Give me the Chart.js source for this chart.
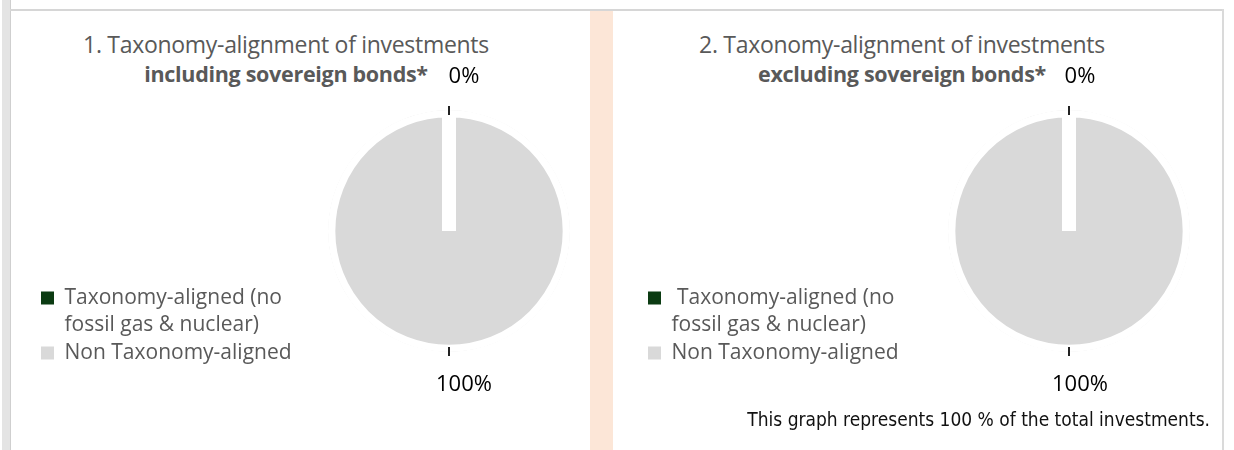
<!DOCTYPE html>
<html>
<head>
<meta charset="utf-8">
<script src="https://cdn.jsdelivr.net/npm/chart.js@4.4.1/dist/chart.umd.min.js"></script>
<style>
  html, body { margin: 0; padding: 0; background: #fff; }
  body { width: 1234px; height: 450px; position: relative; overflow: hidden; font-family: "Open Sans", sans-serif; }
  .edge-left { position: absolute; left: 2px; top: 0; width: 8px; height: 450px; background: #e4e4e4; border-right: 1px solid #cfcfcf; }
  .edge-top { position: absolute; left: 10px; top: 9px; width: 1213px; height: 2px; background: #d6d6d6; }
  .edge-right { position: absolute; left: 1222px; top: 9px; width: 2px; height: 441px; background: #dadada; }
  .divider { position: absolute; left: 590px; top: 11px; width: 23px; height: 439px; background: #fce6d7; }
  .title { position: absolute; top: 30px; width: 600px; text-align: center; color: #595959; font-size: 23px; line-height: 29px; letter-spacing: -0.3px; }
  .title b { font-weight: 700; font-size: 21.5px; }
  .note { position: absolute; right: 24px; top: 408px; font-family: "Liberation Sans Narrow", "DejaVu Sans Condensed", sans-serif; font-size: 19px; color: #111; white-space: nowrap; }
  canvas { position: absolute; top: 0; }
  #pie1 { left: 0; }
  #pie2 { left: 600px; }
</style>
</head>
<body>
<div class="edge-left"></div>
<div class="edge-top"></div>
<div class="edge-right"></div>
<div class="divider"></div>

<div class="title" style="left:-14px">1. Taxonomy-alignment of investments<br><b>including sovereign bonds*</b></div>
<div class="title" style="left:602px">2. Taxonomy-alignment of investments<br><b>excluding sovereign bonds*</b></div>

<canvas id="pie1" width="640" height="450"></canvas>
<canvas id="pie2" width="634" height="450"></canvas>

<div class="note">This graph represents 100 % of the total investments.</div>

<script>
// --- data ---
const categoriesIncl = [['Taxonomy-aligned (no', 'fossil gas & nuclear)'], ['Non Taxonomy-aligned']];
const categoriesExcl = [[' Taxonomy-aligned (no', 'fossil gas & nuclear)'], ['Non Taxonomy-aligned']];
const valuesIncl = [0, 100];
const valuesExcl = [0, 100];
const sliceColors = ['#0b3b12', '#d9d9d9'];

// small tick + percentage label outside every slice
const pieLabels = {
  id: 'pieLabels',
  afterDatasetsDraw(chart, args, opts) {
    const ctx = chart.ctx;
    const meta = chart.getDatasetMeta(0);
    const values = chart.data.datasets[0].data;
    ctx.save();
    meta.data.forEach((arc, i) => {
      const p = arc.getProps(['x', 'y', 'startAngle', 'endAngle', 'outerRadius'], true);
      const r = p.outerRadius - (arc.options.borderWidth || 0);
      const a = (p.startAngle + p.endAngle) / 2;
      const cos = Math.cos(a), sin = Math.sin(a);
      ctx.strokeStyle = '#222';
      ctx.lineWidth = 2;
      ctx.beginPath();
      ctx.moveTo(p.x + cos * (r + 2), p.y + sin * (r + 2));
      ctx.lineTo(p.x + cos * (r + 11), p.y + sin * (r + 11));
      ctx.stroke();
      ctx.fillStyle = '#000';
      ctx.font = '22px "Open Sans", sans-serif';
      ctx.textAlign = 'center';
      ctx.textBaseline = 'middle';
      ctx.fillText(values[i] + '%', p.x + cos * (r + 40) + opts.dx, p.y + sin * (r + 40));
    });
    ctx.restore();
  }
};

function legendItems(chart) {
  const gen = Chart.overrides.doughnut.plugins.legend.labels.generateLabels;
  const items = gen(chart);
  items.forEach(it => { it.lineWidth = 0; });
  return items;
}

function makePie(id, labels, values, padLeft, labelDx) {
  return new Chart(document.getElementById(id), {
    type: 'doughnut',
    data: {
      labels: labels,
      datasets: [{
        data: values,
        backgroundColor: sliceColors,
        borderColor: '#ffffff',
        borderWidth: 7,
        borderAlign: 'inner',
        borderJoinStyle: 'miter'
      }]
    },
    options: {
      responsive: false,
      animation: false,
      cutout: 0,
      radius: 121,
      layout: { padding: { top: 92, bottom: 80, left: padLeft, right: 0 } },
      plugins: {
        legend: {
          position: 'left',
          align: 'end',
          labels: {
            boxWidth: 13,
            boxHeight: 13,
            padding: 0,
            color: '#595959',
            font: { family: '"Open Sans", sans-serif', size: 21, lineHeight: 1.31 },
            generateLabels: legendItems
          }
        },
        tooltip: { enabled: false },
        pieLabels: { dx: labelDx }
      }
    },
    plugins: [pieLabels]
  });
}

// keep the pie centred on a chosen x by trimming the right padding
function centerPie(chart, cx) {
  const area = chart.chartArea;
  chart.config.options.layout.padding.right += ((area.left + area.right) / 2 - cx) * 2;
  chart.update('none');
}

const chart1 = makePie('pie1', categoriesIncl, valuesIncl, 41, 15);
const chart2 = makePie('pie2', categoriesExcl, valuesExcl, 48, 11);
centerPie(chart1, 449);
centerPie(chart2, 469);
</script>
</body>
</html>
